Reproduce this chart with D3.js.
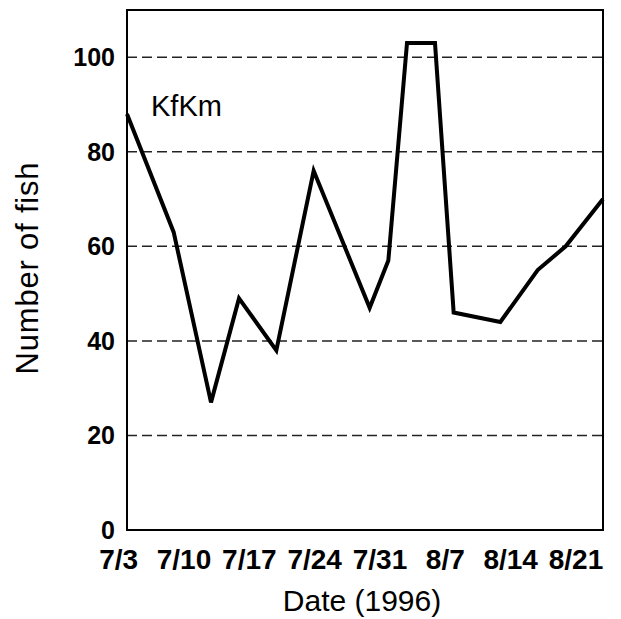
<!DOCTYPE html>
<html>
<head>
<meta charset="utf-8">
<script src="https://cdn.jsdelivr.net/npm/d3@7"></script>
<style>
  html, body { margin: 0; padding: 0; background: #fff; }
  svg { display: block; }
  text { font-family: "Liberation Sans", Arial, Helvetica, sans-serif; fill: #000; }
</style>
</head>
<body>
<svg id="chart" width="621" height="619"></svg>
<script>
// Sampling dates (1996) and counts
const dates = ["7/4","7/9","7/13","7/16","7/20","7/24","7/30","8/1","8/3","8/6","8/8","8/13","8/17","8/20","8/24"];
const fishCounts = [88, 63, 27, 49, 38, 76, 47, 57, 103, 103, 46, 44, 55, 60, 70];
const xTickLabels = ["7/3","7/10","7/17","7/24","7/31","8/7","8/14","8/21"];
const yTicks = [0, 20, 40, 60, 80, 100];
const gridValues = [20, 40, 60, 80, 100];
const seriesLabel = "KfKm";
const xTitle = "Date (1996)";
const yTitle = "Number of fish";

const parse = s => { const [m, d] = s.split("/").map(Number); return new Date(1996, m - 1, d); };
const data = dates.map((d, i) => ({ date: parse(d), value: fishCounts[i] }));

const W = 621, H = 619;
const margin = { left: 127, top: 10, right: 18, bottom: 89 };
const svg = d3.select("#chart");

const x = d3.scaleTime()
  .domain(d3.extent(data, d => d.date))
  .range([margin.left, W - margin.right]);
const y = d3.scaleLinear()
  .domain([0, 110])
  .range([H - margin.bottom, margin.top]);

// gridlines
svg.append("g").selectAll("line").data(gridValues).join("line")
  .attr("x1", margin.left).attr("x2", W - margin.right)
  .attr("y1", d => y(d)).attr("y2", d => y(d))
  .attr("stroke", "#222").attr("stroke-width", 1.5)
  .attr("stroke-dasharray", "10,5");

// frame
svg.append("rect")
  .attr("x", margin.left).attr("y", margin.top)
  .attr("width", W - margin.left - margin.right)
  .attr("height", H - margin.top - margin.bottom)
  .attr("fill", "none").attr("stroke", "#000").attr("stroke-width", 2);

// y tick labels
svg.append("g").selectAll("text").data(yTicks).join("text")
  .attr("x", margin.left - 12).attr("y", d => y(d))
  .attr("dy", "0.36em")
  .attr("text-anchor", "end")
  .attr("font-size", 25).attr("font-weight", "bold")
  .text(d => d);

// x tick labels
svg.append("g").selectAll("text").data(xTickLabels).join("text")
  .attr("x", d => x(parse(d)) + 1).attr("y", 569)
  .attr("text-anchor", "middle")
  .attr("font-size", 28).attr("font-weight", "bold")
  .text(d => d);

// line
const line = d3.line().x(d => x(d.date)).y(d => y(d.value));
svg.append("path").datum(data)
  .attr("d", line)
  .attr("fill", "none").attr("stroke", "#000")
  .attr("stroke-width", 4).attr("stroke-linejoin", "miter");

// series label
svg.append("text")
  .attr("x", 151).attr("y", 116)
  .attr("font-size", 29)
  .text(seriesLabel);

// axis titles
svg.append("text")
  .attr("x", 362).attr("y", 611)
  .attr("text-anchor", "middle")
  .attr("font-size", 30)
  .text(xTitle);

svg.append("text")
  .attr("transform", "translate(38,268) rotate(-90)")
  .attr("text-anchor", "middle")
  .attr("font-size", 31)
  .attr("letter-spacing", 0.8)
  .text(yTitle);
</script>
</body>
</html>
